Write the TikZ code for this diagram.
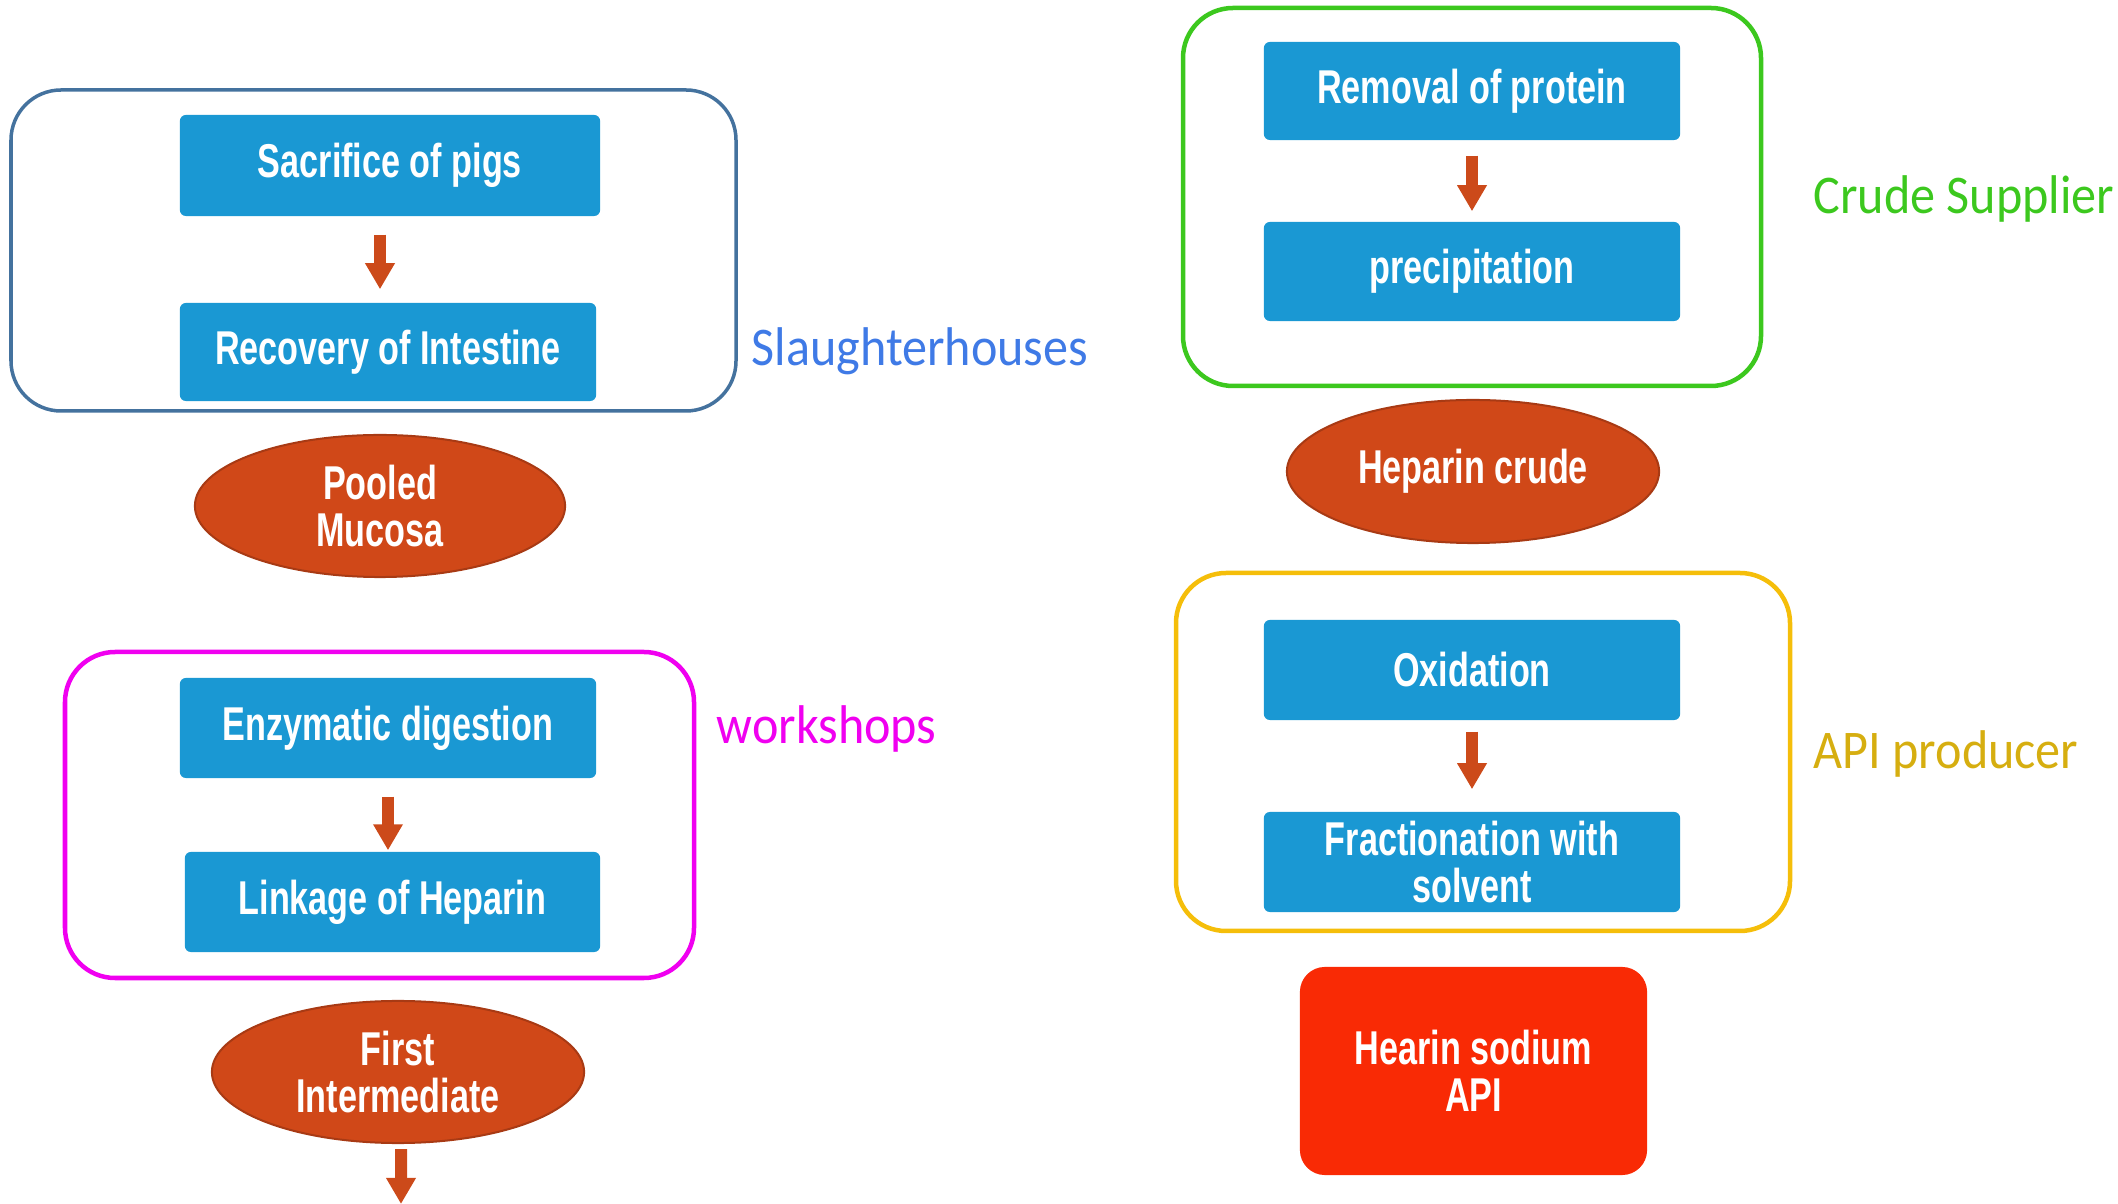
\documentclass[tikz,border=0pt]{standalone}
\usepackage{fontspec}
\newfontfamily\boxfont[FakeStretch=0.72]{Liberation Sans}
\newfontfamily\tagfont[FakeStretch=0.92]{Carlito}
\usetikzlibrary{arrows.meta,shapes.geometric}
\definecolor{boxblue}{HTML}{1A98D3}
\definecolor{lumpfill}{HTML}{D04818}
\definecolor{lumpedge}{HTML}{A83A14}
\definecolor{arrowfill}{HTML}{CC4A1A}
\definecolor{apired}{HTML}{F92A05}
\definecolor{slaughterline}{HTML}{44729E}
\definecolor{slaughtertext}{HTML}{3F7AE6}
\definecolor{workshopline}{HTML}{F000F0}
\definecolor{crudeline}{HTML}{3CC81E}
\definecolor{apiline}{HTML}{F5BE0A}
\definecolor{apitext}{HTML}{D6AE10}

\tikzset{
  stepbox/.style={fill=boxblue, rounded corners=0.06cm, minimum width=4.16cm,
    minimum height=1cm, inner sep=0, text=white, align=center,
    font=\boxfont\bfseries\fontsize{13.5}{13.2}\selectfont},
  lump/.style={ellipse, fill=lumpfill, draw=lumpedge, line width=0.02cm,
    minimum width=3.7cm, minimum height=1.42cm, inner sep=0, text=white,
    align=center, font=\boxfont\bfseries\fontsize{13.5}{13.2}\selectfont},
  flow/.style={draw=arrowfill, line width=0.12cm,
    -{Triangle[width=0.28cm,length=0.26cm]}},
  group/.style={rounded corners=0.5cm, line width=0.035cm},
  tag/.style={anchor=west, inner sep=0,
    font=\tagfont\fontsize{15.5}{16}\selectfont},
}

\begin{document}
\begin{tikzpicture}[x=0.01cm, y=-0.01cm]
			%%%%% START %%%%%
			\useasboundingbox (0,0) rectangle (2118,1204);
			
			% slaughterhouses
			\draw[group, draw=slaughterline] (11,90) rectangle (736,411);
			\node[stepbox, minimum width=4.2cm, minimum height=1.01cm] (sac) at (390,165.5) {Sacrifice of pigs};
			\node[stepbox, minimum height=0.98cm] (rec) at (388,352) {Recovery of Intestine};
			\draw[flow] ([xshift=-0.1cm,yshift=-0.18cm]sac.south) -- ([xshift=-0.1cm,yshift=0.13cm]sac.south |- rec.north);
			\node[tag, text=slaughtertext] (slaughter) at (751,351) {Slaughterhouses};
			\node[lump] (pooled) at (380,506) {Pooled\\Mucosa};
			
			% workshops
			\draw[group, draw=workshopline, line width=0.045cm] (65,652) rectangle (694,978);
			\node[stepbox] (enz) at (388,728) {Enzymatic digestion};
			\node[stepbox, minimum width=4.15cm] (link) at (392.5,902) {Linkage of Heparin};
			\draw[flow] ([yshift=-0.18cm]enz.south) -- ([yshift=0.01cm]enz.south |- link.north);
			\node[tag, text=workshopline] (workshop) at (716,729) {workshops};
			\node[lump, minimum width=3.72cm] (first) at (398,1072) {First\\Intermediate};
			\coordinate (outlet) at (401,1204);
			\draw[flow] ([xshift=0.03cm,yshift=-0.05cm]first.south) -- (outlet);
			
			% crude supplier
			\draw[group, draw=crudeline, line width=0.045cm] (1183,8) rectangle (1761,386);
			\node[stepbox, minimum height=0.98cm] (removal) at (1472,91) {Removal of protein};
			\node[stepbox, minimum height=0.99cm] (precip) at (1472,271.5) {precipitation};
			\draw[flow] ([yshift=-0.15cm]removal.south) -- ([yshift=0.1cm]precip.north);
			\node[tag, text=crudeline] (crude) at (1813,199) {Crude Supplier};
			\node[lump, minimum width=3.72cm, minimum height=1.43cm] (hepcrude) at (1473,471.5) {Heparin crude};
			
			% API producer
			\draw[group, draw=apiline, line width=0.045cm] (1176,573) rectangle (1790,931);
			\node[stepbox] (oxid) at (1472,670) {Oxidation};
			\node[stepbox] (frac) at (1472,862) {Fractionation with\\solvent};
			\draw[flow] ([yshift=-0.11cm]oxid.south) -- ([yshift=0.22cm]frac.north);
			\node[tag, text=apitext] (apiprod) at (1813,754) {API producer};
			\node[stepbox, fill=apired, rounded corners=0.25cm, minimum width=3.47cm,
			  minimum height=2.08cm] (api) at (1473.5,1071) {Hearin sodium\\API};
			
			%%%%% END %%%%%
\end{tikzpicture}
\end{document}
